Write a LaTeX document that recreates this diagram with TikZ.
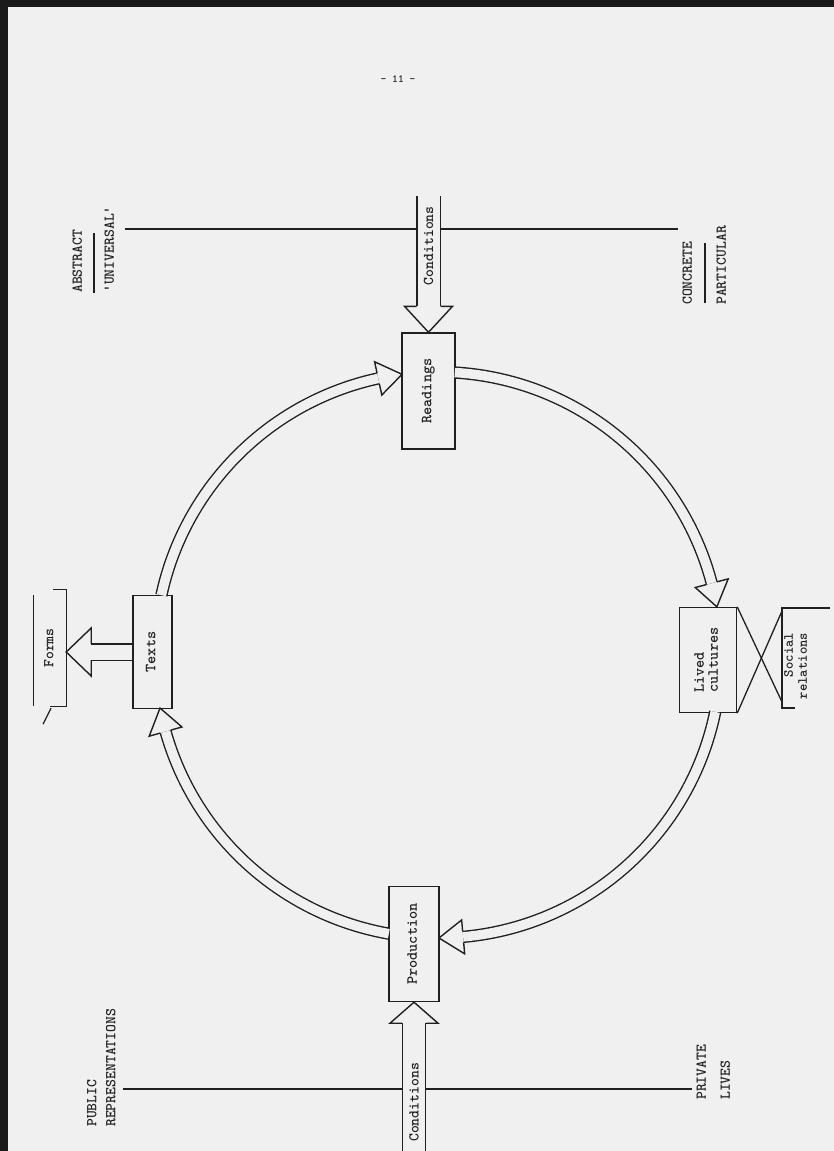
\documentclass[tikz,border=0pt]{standalone}
\usepackage{graphicx}
\usetikzlibrary{calc}
\definecolor{paper}{RGB}{240,240,240}
\definecolor{ink}{RGB}{32,32,32}
\definecolor{frame}{RGB}{26,26,26}
% rotated (bottom to top) text, one column per line
\newcommand{\vtext}[2][l]{\rotatebox{90}{\begin{tabular}{@{}#1@{}}#2\end{tabular}}}
% hollow arrow along the ring: #1 start angle, #2 tip angle
\newcommand{\ringarrow}[2]{%
  \pgfmathsetmacro{\ringbase}{#2-4.9}%
  \draw[band, shift={(ring)}] plot[domain=#1:\ringbase, samples=48] (\x:283);
  \draw[hhead] ($(ring)+(\ringbase:288.5)$) -- ($(ring)+(\ringbase:300)$) -- ($(ring)+(#2:283)$)
    -- ($(ring)+(\ringbase:266)$) -- ($(ring)+(\ringbase:277.5)$);}

\begin{document}
\begin{tikzpicture}[x=1pt, y=-1pt,
  moment/.style={draw=ink, line width=1.4pt, fill=paper, inner sep=0pt, text=ink, font=\ttfamily\bfseries\fontsize{15.5}{14}\selectfont},
  axislabel/.style={inner sep=0pt, anchor=south, text=ink, font=\ttfamily\bfseries\fontsize{15}{19}\selectfont},
  axisline/.style={draw=ink, line width=1.3pt},
  band/.style={draw=ink, line width=1.4pt, double=paper, double distance=9.5pt},
  hhead/.style={draw=ink, line width=1.4pt, line join=miter}]
\fill[frame] (0,0) rectangle (834,1151);
\fill[paper] (8,7) rectangle (834,1151);
\useasboundingbox (0,0) rectangle (834,1151);
\node[text=ink, font=\ttfamily\bfseries\fontsize{11}{12}\selectfont] (folio) at (398,79) {- 11 -};

% the four moments
\coordinate (ring) at (438,655);
\node[moment, minimum width=53pt, minimum height=116pt] (readings) at (428.5,391) {\vtext{Readings}};
\node[moment, minimum width=57pt, minimum height=105pt] (lived) at (708,660) {\vtext{Lived\\cultures}};
\node[moment, minimum width=50pt, minimum height=115pt] (production) at (414,944) {\vtext{Production}};
\node[moment, minimum width=39pt, minimum height=113pt] (texts) at (152.5,652) {\vtext{Texts}};

% side labels
\node[text=ink, inner sep=0pt, font=\ttfamily\bfseries\fontsize{15}{17}\selectfont, minimum width=32pt, minimum height=116pt] (forms) at (50,648) {\vtext{Forms}};
\node[text=ink, inner sep=0pt, font=\ttfamily\bfseries\fontsize{14}{14}\selectfont] (social) at (797,666) {\vtext[r]{Social\\relations}};
\coordinate (sr-top) at (782,608);
\coordinate (sr-bot) at (782,708);

% axes
\node[axislabel] (abstract) at (78,293) {\vtext{ABSTRACT}};
\node[axislabel] (universal) at (110,293) {\vtext{'UNIVERSAL'}};
\node[axislabel] (concrete) at (688,305) {\vtext{CONCRETE}};
\node[axislabel] (particular) at (722,305) {\vtext{PARTICULAR}};
\node[axislabel] (public) at (102,1127) {\vtext{PUBLIC\\REPRESENTATIONS}};
\node[axislabel] (private) at (714,1100) {\vtext{PRIVATE\\[5pt]LIVES}};
\draw[axisline] ($(abstract.south)!0.5!(universal.south)$) -- ++(0,-60);
\draw[axisline] ($(concrete.south)!0.5!(particular.south)+(0,-2)$) -- ++(0,-60);
\draw[axisline] ($(universal.east |- 0,229)+(5,0)$) -- (concrete.west |- 0,229);
\draw[axisline] ($(public.east |- 0,1089)+(2,0)$) -- (private.west |- 0,1089);

% conditions in
\coordinate (cond-top) at (readings.north |- 0,196);
\coordinate (cond-bot) at (production.south |- 0,1151);
\draw[band, double distance=22pt] (cond-top) -- ($(readings.north)+(0,-26)$)
  node[pos=0.45, text=ink, font=\ttfamily\bfseries\fontsize{15}{17}\selectfont] {\rotatebox{90}{Conditions}};
\draw[hhead] ($(readings.north)+(-12,-26)$) -- ++(-12,0) -- (readings.north) -- ($(readings.north)+(24,-26)$) -- ++(-12,0);
\draw[band, double distance=22pt] (cond-bot) -- ($(production.south)+(0,21)$)
  node[pos=0.38, text=ink, font=\ttfamily\bfseries\fontsize{15}{17}\selectfont] {\rotatebox{90}{Conditions}};
\draw[hhead] ($(production.south)+(-12,21)$) -- ++(-12,0) -- (production.south) -- ($(production.south)+(24,21)$) -- ++(-12,0);

% the circuit
\ringarrow{100}{169.2}
\ringarrow{192.2}{262.7}
\ringarrow{273.4}{350.2}
\ringarrow{371.6}{449.8}

% texts to forms
\draw[band, double distance=15pt] (texts.west) -- ($(forms.east |- texts.west)+(25,0)$);
\draw[hhead] ($(forms.east |- texts.west)+(25,-8)$) -- ++(0,-16) -- (forms.east |- texts.west)
  -- ($(forms.east |- texts.west)+(25,24)$) -- ++(0,-16);
\draw[axisline] ($(forms.north east)+(-13,0)$) -- (forms.north east) -- (forms.south east) -- ++(-16,0);
\draw[axisline] ($(forms.north west)+(0,5)$) -- (forms.south west);
\draw[axisline] ($(forms.south)+(-7,18)$) -- ($(forms.south)+(1,2)$);

% lived cultures and social relations
\draw[axisline] (830,608) -- (sr-top) -- (sr-bot) -- ++(13,0);
\draw[axisline] (lived.north east) -- ($(sr-bot)+(0,-6)$);
\draw[axisline] (lived.south east) -- ($(sr-top)+(0,3)$);
\end{tikzpicture}
\end{document}
